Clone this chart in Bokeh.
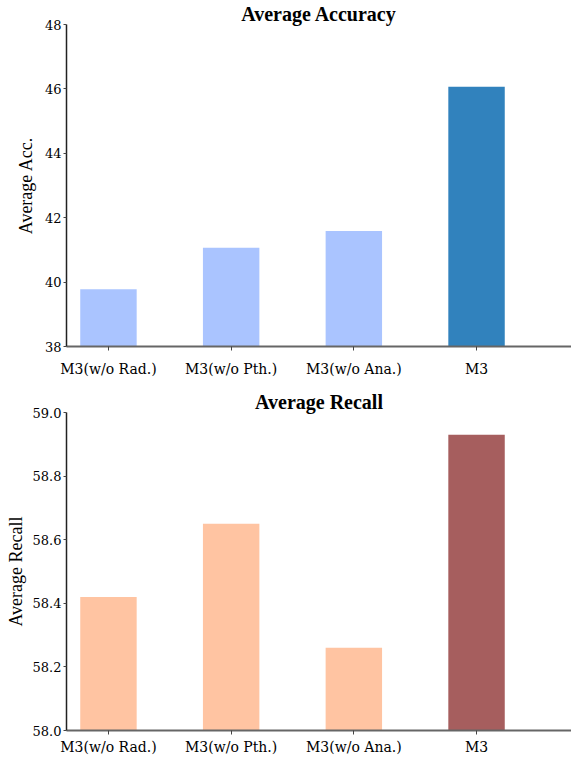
from bokeh.plotting import figure
from bokeh.layouts import column
from bokeh.models import (Range1d, FixedTicker, ColumnDataSource,
                          CustomJSTickFormatter, PrintfTickFormatter)
from bokeh.embed import file_html
from bokeh.resources import INLINE

categories = ["M3(w/o Rad.)", "M3(w/o Pth.)", "M3(w/o Ana.)", "M3"]
acc_values = [39.78, 41.07, 41.59, 46.07]
recall_values = [58.42, 58.65, 58.26, 58.93]
acc_colors = ["#AAC4FF", "#AAC4FF", "#AAC4FF", "#3182BD"]
recall_colors = ["#FFC4A2", "#FFC4A2", "#FFC4A2", "#A65E5E"]
acc_ticks = [38, 40, 42, 44, 46, 48]
recall_ticks = [58.0, 58.2, 58.4, 58.6, 58.8, 59.0]

FONT = "Liberation Serif"
TICK_FONT = "DejaVu Serif"
W = 571


def make(values, colors, ylabel, title, y0, y1, ticks, fmt, height, bottom, xstand, ystand):
    p = figure(width=W, height=height, output_backend="svg", toolbar_location=None,
               x_range=Range1d(-0.342, 3.774), y_range=Range1d(y0, y1),
               min_border_left=66, min_border_right=0, min_border_top=0,
               min_border_bottom=bottom)
    p.outline_line_color = None
    p.grid.visible = False
    src = ColumnDataSource(dict(x=list(range(len(categories))), top=values, color=colors))
    p.vbar(x="x", top="top", bottom=y0, width=0.46, color="color", source=src, line_color=None)

    p.title.text = title
    p.title.text_font = FONT
    p.title.text_font_size = "20px"
    p.title.text_font_style = "bold"
    p.title.text_color = "black"
    p.title.align = "center"
    p.title.standoff = 0

    p.xaxis.ticker = FixedTicker(ticks=list(range(len(categories))))
    p.xaxis.formatter = CustomJSTickFormatter(args=dict(cats=categories),
                                              code="const i = Math.round(tick); return cats[i] || '';")
    p.yaxis.ticker = FixedTicker(ticks=ticks)
    p.yaxis.formatter = PrintfTickFormatter(format=fmt)

    p.xaxis.axis_line_color = "#666666"
    p.xaxis.axis_line_width = 2
    p.yaxis.axis_line_color = "#222222"
    p.yaxis.axis_line_width = 1.5
    p.xaxis.major_tick_line_color = "#444444"
    p.yaxis.major_tick_line_color = "#444444"
    p.xaxis.major_tick_in = 0
    p.yaxis.major_tick_in = 0
    p.xaxis.minor_tick_line_color = None
    p.yaxis.minor_tick_line_color = None
    p.xaxis.major_label_text_color = "black"
    p.yaxis.major_label_text_color = "black"
    p.xaxis.major_tick_out = 4
    p.yaxis.major_tick_out = 3
    p.xaxis.major_label_standoff = xstand
    p.yaxis.major_label_standoff = 2
    p.yaxis.axis_label = ylabel
    p.yaxis.axis_label_text_font = FONT
    p.yaxis.axis_label_text_font_size = "18px"
    p.yaxis.axis_label_text_font_style = "normal"
    p.yaxis.axis_label_text_color = "black"
    p.yaxis.axis_label_standoff = ystand
    return p


p1 = make(acc_values, acc_colors, "Average Acc.", "Average Accuracy", 38, 48,
          acc_ticks, "%.0f", 388, 42, 10, 6)
p2 = make(recall_values, recall_colors, "Average Recall", "Average Recall", 58.0, 59.0,
          recall_ticks, "%.1f", 369, 27, 4, 4)

for p in (p1, p2):
    p.xaxis.major_label_text_font = TICK_FONT
    p.yaxis.major_label_text_font = TICK_FONT
    p.xaxis.major_label_text_font_size = "14px"
    p.yaxis.major_label_text_font_size = "13px"

layout = column(p1, p2, spacing=0)
open("out.html", "w").write(file_html(layout, INLINE))
